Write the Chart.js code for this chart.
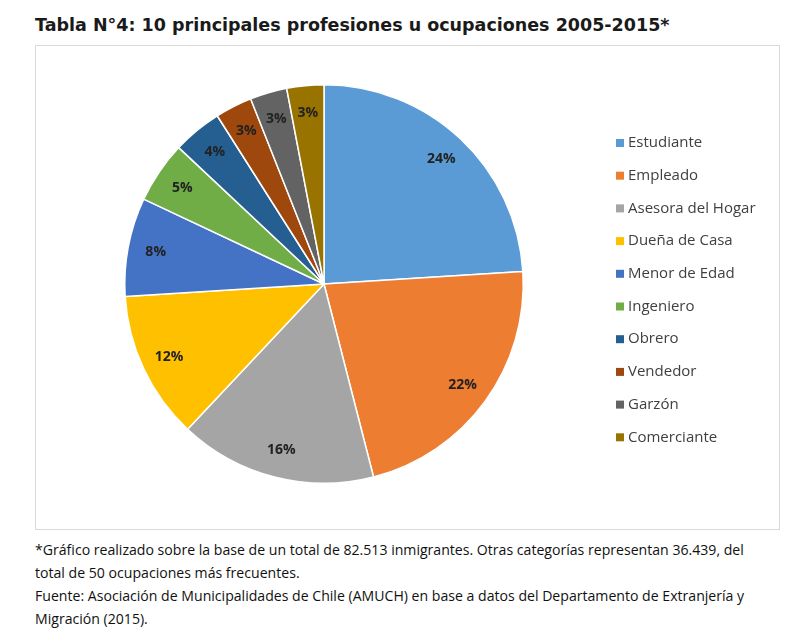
<!DOCTYPE html>
<html><head><meta charset="utf-8">
<script src="https://cdn.jsdelivr.net/npm/chart.js@4"></script>
<style>
body{margin:0;background:#fff;width:800px;height:640px;position:relative;font-family:"Open Sans",sans-serif;}
#title{position:absolute;left:35px;top:15px;font:bold 17.5px "DejaVu Sans",sans-serif;color:#1a1a1a;white-space:nowrap;}
#box{position:absolute;left:35px;top:45px;width:745px;height:485px;border:1px solid #d9d9d9;box-sizing:border-box;}
#foot{position:absolute;left:35px;top:538px;width:780px;font-size:14.1px;line-height:23px;color:#111;white-space:nowrap;}
</style></head><body>
<div id="title">Tabla N°4: 10 principales profesiones u ocupaciones 2005-2015*</div>
<div id="box"><canvas id="c" width="745" height="485"></canvas></div>
<div id="foot">*Gráfico realizado sobre la base de un total de 82.513 inmigrantes. Otras categorías representan 36.439, del<br>total de 50 ocupaciones más frecuentes.<br>Fuente: Asociación de Municipalidades de Chile (AMUCH) en base a datos del Departamento de Extranjería y<br>Migración (2015).</div>
<script>
const categories=["Estudiante","Empleado","Asesora del Hogar","Dueña de Casa","Menor de Edad","Ingeniero","Obrero","Vendedor","Garzón","Comerciante"];
const values=[24,22,16,12,8,5,4,3,3,3];
const colors=["#5B9BD5","#ED7D31","#A5A5A5","#FFC000","#4472C4","#70AD47","#255E91","#9E480E","#636363","#997300"];
const labelsPlugin={id:"lbl",afterDatasetsDraw(ch){
 const ctx=ch.ctx;const meta=ch.getDatasetMeta(0);
 ctx.save();ctx.font="bold 14px 'Open Sans',sans-serif";ctx.fillStyle="#222";ctx.textAlign="center";ctx.textBaseline="middle";
 meta.data.forEach((a,i)=>{const ang=(a.startAngle+a.endAngle)/2;const r=a.outerRadius*0.86;
  ctx.fillText(values[i]+"%",a.x+Math.cos(ang)*r,a.y+Math.sin(ang)*r);});
 ctx.font="15px 'Open Sans',sans-serif";ctx.fillStyle="#404040";ctx.textAlign="left";
 categories.forEach((c,i)=>{const y=97+i*32.7;ctx.fillStyle=colors[i];ctx.fillRect(580,y-4,8,8);ctx.fillStyle="#404040";ctx.fillText(c,592,y);});
 ctx.restore();}};
new Chart(document.getElementById("c"),{type:"pie",
 data:{labels:categories,datasets:[{data:values,backgroundColor:colors,borderColor:"#fff",borderWidth:1.5}]},
 options:{responsive:false,animation:false,layout:{padding:{left:88,right:257,top:38,bottom:47}},
  plugins:{legend:{display:false},tooltip:{enabled:false}}},
 plugins:[labelsPlugin]});
</script></body></html>
